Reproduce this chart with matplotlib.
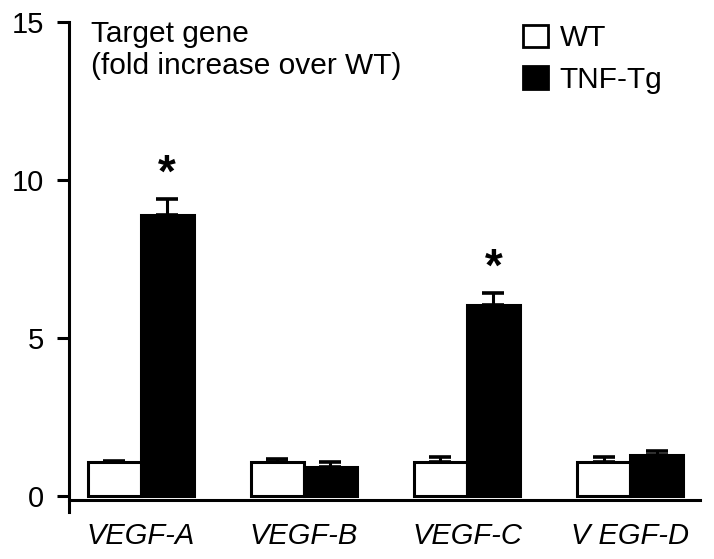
import numpy as np
import matplotlib.pyplot as plt
from matplotlib.patches import Patch

plt.rcParams['font.family'] = ['Liberation Sans', 'DejaVu Sans']

# data
genes = ["VEGF-A", "VEGF-B", "VEGF-C", "V EGF-D"]
wt = [1.07, 1.07, 1.07, 1.07]
wt_err = [0.06, 0.10, 0.16, 0.16]
tg = [8.9, 0.92, 6.04, 1.30]
tg_err = [0.50, 0.15, 0.38, 0.12]
signif = [True, False, True, False]

fig = plt.figure(figsize=(7.14, 5.59), dpi=100)
ax = fig.add_axes([0.0966, 0.084, 0.884, 0.8766])

x = np.arange(len(genes))
w = 0.325
lw = 2.2

ax.bar(x - w / 2, wt, w, color='white', edgecolor='black', linewidth=lw, zorder=3)
ax.bar(x + w / 2, tg, w, color='black', edgecolor='black', linewidth=lw, zorder=3)
ax.errorbar(x - w / 2, wt, yerr=[np.zeros(4), wt_err], fmt='none', ecolor='black',
            elinewidth=2.2, capsize=8, capthick=2.6, zorder=2)
ax.errorbar(x + w / 2, tg, yerr=[np.zeros(4), tg_err], fmt='none', ecolor='black',
            elinewidth=2.2, capsize=8, capthick=2.6, zorder=2)

# significance stars
for i, s in enumerate(signif):
    if s:
        ax.annotate('*', (x[i] + w / 2, tg[i] + tg_err[i]), xytext=(0, 2),
                    textcoords='offset points', ha='center', va='bottom',
                    fontsize=33, fontweight='bold')

ax.set_xlim(-0.44, 3.43)
ax.set_ylim(-0.5, 15)
ax.set_yticks([0, 5, 10, 15])
ax.set_xticks(x)
ax.set_xticklabels(genes)

ax.spines['top'].set_visible(False)
ax.spines['right'].set_visible(False)
ax.spines['bottom'].set_position(('data', -0.12))
ax.spines['left'].set_bounds(-0.5, 15)
ax.spines['left'].set_linewidth(2.2)
ax.spines['bottom'].set_linewidth(2.2)
ax.tick_params(axis='y', length=9, width=2.2, labelsize=21, pad=9)
ax.tick_params(axis='x', length=0, pad=16, labelsize=21)
for lab in ax.get_xticklabels():
    lab.set_fontstyle('italic')

ax.text(0.035, 1.005, "Target gene\n(fold increase over WT)", transform=ax.transAxes,
        ha='left', va='top', fontsize=21.5, linespacing=1.2)

handles = [Patch(facecolor='white', edgecolor='black', linewidth=2),
           Patch(facecolor='black', edgecolor='black', linewidth=2)]
ax.legend(handles, ["WT", "TNF-Tg"], loc='upper left', bbox_to_anchor=(0.676, 1.05),
          frameon=False, fontsize=21.5, handlelength=0.85, handleheight=0.8,
          handletextpad=0.4, labelspacing=0.45)

fig.savefig("out.png", dpi=100)
